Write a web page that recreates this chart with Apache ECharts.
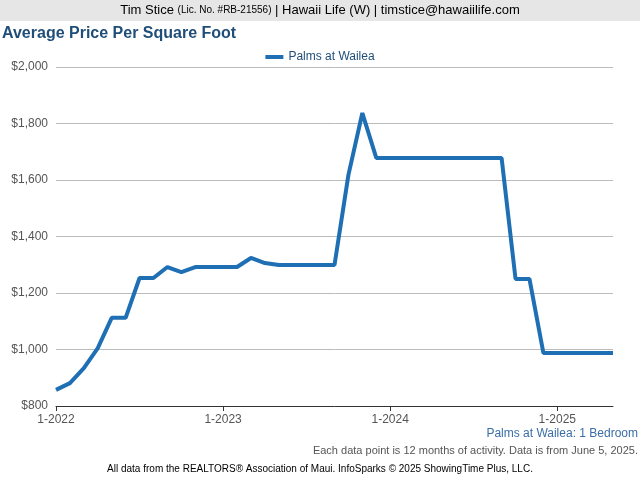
<!DOCTYPE html>
<html><head><meta charset="utf-8">
<script src="https://cdn.jsdelivr.net/npm/echarts@6/dist/echarts.min.js"></script>
<style>body{margin:0}#c{width:640px;height:480px}</style>
</head><body><div id="c"></div>
<script>
var months = [];
for (var y = 2022; y <= 2025; y++) {
	for (var m = 1; m <= 12; m++) {
		if (y == 2025 && m > 5) break;
		months.push(m + '-' + y);
	}
}
var prices = [857, 881, 934, 1005, 1112, 1112, 1253, 1253, 1292, 1274, 1292, 1292, 1292, 1292,
	1324, 1306, 1299, 1299, 1299, 1299, 1299, 1618, 1837, 1678, 1678, 1678, 1678, 1678, 1678,
	1678, 1678, 1678, 1678, 1250, 1250, 988, 988, 988, 988, 988, 988];
var yTicks = [800, 2000, 200];

var chart = echarts.init(document.getElementById('c'));
var font = 'Liberation Sans, Arial, sans-serif';
chart.setOption({
	animation: false,
	textStyle: {fontFamily: font},
	graphic: [
		{type: 'rect', shape: {x: 0, y: 0, width: 640, height: 21}, style: {fill: '#e6e6e6'}},
		{type: 'text', left: 'center', top: 4, style: {rich: {a: {fontSize: 13, fill: '#000', fontFamily: font}, b: {fontSize: 10, fill: '#000', fontFamily: font}},
			text: '{a|Tim Stice }{b|(Lic. No. #RB-21556)}{a| | Hawaii Life (W) | timstice@hawaiilife.com}'}},
		{type: 'text', left: 2, top: 26, style: {text: 'Average Price Per Square Foot', fontSize: 16, fontWeight: 'bold', fill: '#1f4e79', fontFamily: font}},
		{type: 'text', right: 2, top: 428, style: {text: 'Palms at Wailea: 1 Bedroom', fontSize: 12, fill: '#3a6ea5', fontFamily: font}},
		{type: 'text', right: 2, top: 445, style: {text: 'Each data point is 12 months of activity. Data is from June 5, 2025.', fontSize: 11, fill: '#555', fontFamily: font}},
		{type: 'text', left: 'center', top: 464, style: {text: 'All data from the REALTORS\u00ae Association of Maui. InfoSparks \u00a9 2025 ShowingTime Plus, LLC.', fontSize: 10, fill: '#000', fontFamily: font}}
	],
	legend: {top: 46, left: 'center', itemWidth: 18, itemHeight: 4, icon: 'rect',
		textStyle: {fontSize: 12, color: '#1f4e79'}, data: ['Palms at Wailea']},
	grid: {left: 56, right: 27, top: 67, bottom: 74},
	xAxis: {
		type: 'category', boundaryGap: false, data: months,
		axisLine: {lineStyle: {color: '#333'}},
		axisTick: {interval: function (i, v) { return v.indexOf('1-') === 0; }, lineStyle: {color: '#333'}},
		axisLabel: {interval: function (i, v) { return v.indexOf('1-') === 0; }, color: '#555', fontSize: 12}
	},
	yAxis: {
		type: 'value', min: yTicks[0], max: yTicks[1], interval: yTicks[2],
		axisLabel: {color: '#555', fontSize: 12, formatter: function (v) { return '$' + v.toLocaleString('en-US'); }},
		splitLine: {lineStyle: {color: '#bbb'}}
	},
	series: [{name: 'Palms at Wailea', type: 'line', data: prices, showSymbol: false,
		lineStyle: {width: 4, color: '#1f6fb5'}, itemStyle: {color: '#1f6fb5'}}]
});
</script></body></html>
